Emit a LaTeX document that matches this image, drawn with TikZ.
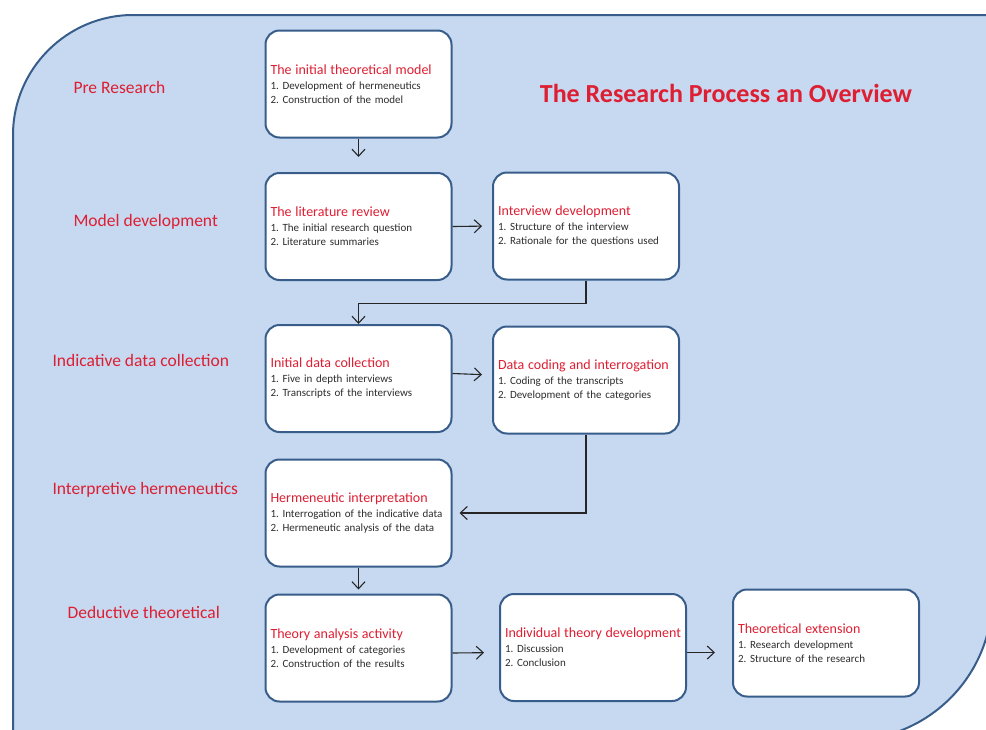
\documentclass[tikz,border=0pt]{standalone}
\usepackage{fontspec}
\setmainfont{Carlito}
\usetikzlibrary{arrows.meta, positioning, calc}
\definecolor{BgBlue}{RGB}{198,217,240}
\definecolor{BoxLine}{RGB}{56,93,138}
\definecolor{RedT}{RGB}{222,30,50}
\definecolor{TxtG}{RGB}{45,45,45}
\frenchspacing

\begin{document}
\begin{tikzpicture}[x=1pt, y=-1pt,
  stage/.style={draw=BoxLine, fill=white, line width=2pt, rounded corners=14pt,
                minimum width=186pt, minimum height=107pt,
                text width=176pt, inner xsep=5pt, align=left,
                font=\fontsize{11}{14}\selectfont, text=TxtG},
  phase/.style={anchor=west, font=\fontsize{17.5}{20}\selectfont, text=RedT},
  flow/.style={-{Straight Barb[length=7pt,width=13pt]}, line width=1.1pt, draw=black!85}
]
\useasboundingbox (0,0) rectangle (986,729);
\clip (0,0) rectangle (986,729);

% Slide background
\draw[BoxLine, fill=BgBlue, line width=2pt]
  (13,800) -- (13,135) .. controls (13,69) and (67,15) .. (133,15)
  -- (1050,15) -- (1050,598) -- (992,598)
  .. controls (992,676) and (928,740) .. (850,740) -- (850,800) -- cycle;
\draw[BgBlue, line width=3pt] (992,600) -- (1050,600);

% Heading
\node[font=\fontsize{26}{29}\selectfont\bfseries, text=RedT] (head) at (726,93)
  {The Research Process an Overview};

% Phase labels
\foreach \n/\x/\y/\lbl in {p1/70/87/Pre Research, p2/70/222/Model development,
    p3/49/360/Indicative data collection, p4/49/490/Interpretive hermeneutics,
    p5/64/612/Deductive theoretical}{
  \node[phase] (\n) at (\x,\y) {\lbl};
}

% Process boxes
\foreach \n/\x/\y/\ttl/\ia/\ib in {
    b1/358.5/84/The initial theoretical model/Development of hermeneutics/Construction of the model,
    b2/358.5/226.5/The literature review/The initial research question/Literature summaries,
    b3/586/226/Interview development/Structure of the interview/Rationale for the questions used,
    b4/358.5/378.5/Initial data collection/Five in depth interviews/Transcripts of the interviews,
    b5/586/380/Data coding and interrogation/Coding of the transcripts/Development of the categories,
    b6/358.5/513/Hermeneutic interpretation/Interrogation of the indicative data/Hermeneutic analysis of the data,
    b7/358.5/648/Theory analysis activity/Development of categories/Construction of the results,
    b8/593/647.5/Individual theory development/Discussion/Conclusion,
    b9/826/643/Theoretical extension/Research development/Structure of the research}{
  \node[stage] (\n) at (\x,\y)
    {\mbox{\color{RedT}\fontsize{14}{16}\selectfont \ttl}\\[1pt] 1. \ia\\ 2. \ib};
}

% Connectors
\draw[flow, shorten >=15pt] (b1.south) -- (b2.north);
\draw[flow, shorten >=10pt] (b2.east) -- (b3.west);
\draw[flow] (b3.south) -- ++(0,23) -| (b4.north);
\draw[flow, shorten >=10pt] ([yshift=5pt]b4.east) -- ([yshift=5pt]b5.west);
\draw[flow, shorten >=7pt] (b5.south) |- (b6.east);
\draw[flow, shorten >=4pt] (b6.south) -- (b7.north);
\draw[flow, shorten >=15pt] ([yshift=-5pt]b7.east) -- ([yshift=-5pt]b8.west);
\draw[flow, shorten >=17pt] ([yshift=-5pt]b8.east) -- ([yshift=-5pt]b9.west |- b8.east);
\end{tikzpicture}
\end{document}
